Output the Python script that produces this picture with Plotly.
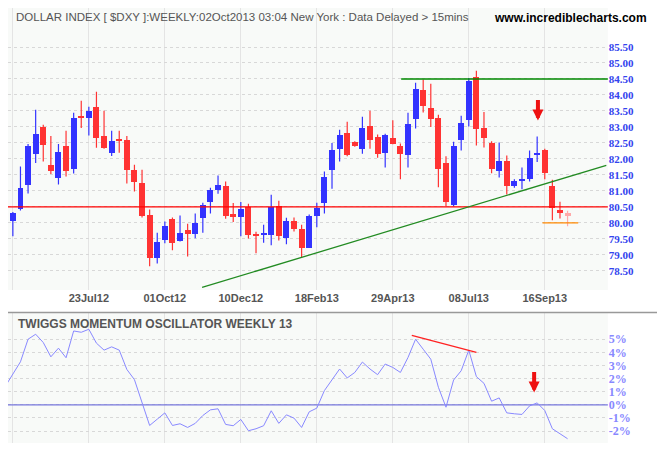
import pandas as pd
import plotly.graph_objects as go

# weekly candles, first week 07May12
dates = pd.date_range("2012-05-07", periods=75, freq="7D")

opens = [78.80, 80.05, 80.42, 81.17, 82.14, 83.01, 81.82, 81.39, 82.41, 81.67,
         83.34, 83.29, 83.63, 82.72, 82.17, 82.63, 82.60, 81.66, 81.26, 80.26,
         78.91, 79.45, 80.13, 79.42, 79.79, 79.64, 80.14, 80.64, 81.02, 81.16,
         80.29, 80.19, 80.50, 79.66, 79.65, 79.63, 80.54, 79.54, 80.07, 79.82,
         79.22, 80.23, 80.63, 81.64, 82.30, 82.82, 82.53, 82.30, 83.04, 82.69,
         82.19, 82.66, 82.40, 82.11, 83.26, 84.16, 83.60, 83.29, 81.88, 80.55,
         82.58, 83.22, 84.57, 82.97, 82.51, 81.61, 81.94, 81.14, 81.33, 81.37,
         82.14, 82.29, 81.16, 80.41, 80.32]
highs = [79.54, 80.34, 81.76, 82.47, 83.54, 83.07, 82.72, 82.47, 82.88, 83.44,
         83.82, 83.63, 84.10, 83.51, 82.88, 82.88, 82.72, 81.82, 81.66, 80.42,
         79.69, 80.04, 80.17, 80.23, 79.97, 80.29, 80.63, 81.10, 81.48, 81.29,
         80.62, 80.65, 80.60, 79.72, 79.94, 80.88, 80.69, 80.16, 80.17, 79.94,
         80.26, 80.63, 81.61, 82.50, 82.91, 83.16, 82.55, 83.32, 83.51, 82.76,
         82.79, 83.21, 82.48, 83.44, 84.38, 84.48, 84.35, 83.38, 82.08, 82.54,
         83.35, 84.53, 84.76, 83.47, 82.55, 82.51, 82.11, 81.36, 81.73, 82.26,
         82.70, 82.32, 81.35, 80.66, 80.38]
lows = [78.65, 79.58, 80.39, 80.92, 81.87, 81.92, 81.53, 81.20, 81.45, 81.54,
        82.97, 82.73, 82.35, 82.32, 82.09, 82.19, 81.23, 80.98, 80.17, 78.64,
        78.73, 79.36, 79.14, 79.42, 78.95, 79.52, 79.69, 80.29, 80.91, 80.13,
        80.03, 79.58, 79.51, 79.05, 79.38, 79.30, 79.45, 79.33, 79.73, 78.93,
        79.21, 79.86, 80.29, 81.07, 81.92, 82.08, 82.38, 82.16, 82.32, 82.04,
        81.73, 82.46, 81.36, 81.73, 82.95, 83.45, 83.00, 81.11, 80.52, 80.52,
        82.26, 83.01, 82.42, 82.36, 81.55, 81.42, 80.89, 81.10, 81.05, 81.29,
        81.90, 81.36, 80.08, 80.14, 79.89]
closes = [79.51, 80.32, 81.10, 82.40, 82.79, 82.45, 81.61, 82.22, 81.61, 83.29,
          83.29, 83.51, 82.64, 82.33, 82.57, 82.55, 81.64, 81.27, 80.20, 78.89,
          79.41, 79.91, 79.36, 79.69, 79.64, 80.00, 80.57, 81.04, 81.19, 80.23,
          80.17, 80.44, 79.61, 79.61, 79.69, 80.51, 79.58, 80.07, 79.80, 79.21,
          80.22, 80.48, 81.44, 82.29, 82.76, 82.13, 82.40, 82.96, 82.58, 82.14,
          82.76, 82.48, 82.14, 83.10, 84.19, 83.64, 83.26, 81.70, 80.64, 82.41,
          83.13, 84.45, 82.95, 82.64, 81.67, 81.94, 81.14, 81.32, 81.38, 82.04,
          82.16, 81.55, 80.45, 80.30, 80.21]

# Twiggs momentum oscillator, weekly 13 (percent)
momentum = [1.41, 2.35, 3.28, 5.00, 5.38, 4.75, 3.66, 4.32, 3.59, 5.63,
            5.53, 5.76, 4.70, 4.17, 4.42, 4.17, 2.70, 1.92, 0.20, -1.57,
            -1.09, -0.61, -1.57, -1.44, -1.72, -1.41, -0.81, -0.38, -0.30, -1.49,
            -1.59, -1.11, -1.97, -1.82, -1.59, -0.45, -1.41, -0.76, -1.01, -1.72,
            -0.53, -0.25, 1.09, 1.92, 2.73, 2.05, 2.47, 3.26, 2.73, 2.30,
            3.11, 2.85, 2.47, 3.61, 5.00, 4.24, 3.48, 1.34, -0.18, 1.89,
            2.60, 4.17, 2.15, 1.64, 0.28, 0.53, -0.61, -0.68, -0.73, -0.08,
            0.15, -0.43, -1.82, -2.20, -2.58]

tick_dates = ["2012-05-14", "2012-07-23", "2012-10-01", "2012-12-10",
              "2013-02-18", "2013-04-29", "2013-07-08", "2013-09-16"]
tick_text = ["14May12", "23Jul12", "01Oct12", "10Dec12",
             "18Feb13", "29Apr13", "08Jul13", "16Sep13"]

price_ticks = [78.5, 79.0, 79.5, 80.0, 80.5, 81.0, 81.5, 82.0, 82.5, 83.0,
               83.5, 84.0, 84.5, 85.0, 85.5]
osc_ticks = [-2, -1, 0, 1, 2, 3, 4, 5]

# drawn lines (week index from first candle, value)
resistance = ([53.1, 81.0], [84.5, 84.5])
support = ([0, 81.0], [80.5, 80.5])
trend = ([26.9, 80.1], [77.98, 81.80])
target = ([71.7, 76.4], [80.0, 80.0])
divergence = ([54.5, 63.0], [5.30, 3.99])


def wk(i):
    return dates[0] + pd.Timedelta(days=7 * (i - 1))


BLUE = "#3333ff"
RED = "#ff3333"
PINK = "#ffaaaa"
GRID = "#d8d8d8"

colors = [BLUE if c >= o else RED for o, c in zip(opens, closes)]
colors[-1] = PINK

fig = go.Figure()
# wicks
for col in set(colors):
    wx, wy = [], []
    for d, h, l, c in zip(dates, highs, lows, colors):
        if c == col:
            wx += [d, d, None]
            wy += [l, h, None]
    fig.add_trace(go.Scatter(x=wx, y=wy, mode="lines", line=dict(color=col, width=1.2),
                             showlegend=False, hoverinfo="skip", xaxis="x", yaxis="y"))
# bodies
fig.add_trace(go.Bar(
    x=dates, base=[min(o, c) for o, c in zip(opens, closes)],
    y=[max(abs(c - o), 0.03) for o, c in zip(opens, closes)],
    width=7 * 24 * 3600 * 1000 * 0.78, marker=dict(color=colors, line=dict(width=0)),
    showlegend=False, xaxis="x", yaxis="y"))

for (xs, ys), col in [(resistance, "#008800"), (support, "#ff0000"),
                      (trend, "#228B22"), (target, "#ff8800")]:
    fig.add_trace(go.Scatter(x=[wk(v) for v in xs], y=ys, mode="lines",
                             line=dict(color=col, width=1.3), showlegend=False,
                             hoverinfo="skip", xaxis="x", yaxis="y"))

fig.add_trace(go.Scatter(x=[wk(v) for v in [-5, 85]], y=[0, 0], mode="lines",
                         line=dict(color="#7777dd", width=1.3), showlegend=False,
                         xaxis="x2", yaxis="y2"))
fig.add_trace(go.Scatter(x=dates, y=momentum, mode="lines",
                         line=dict(color="#8888ff", width=1), showlegend=False,
                         xaxis="x2", yaxis="y2"))
fig.add_trace(go.Scatter(x=[wk(v) for v in divergence[0]], y=divergence[1],
                         mode="lines", line=dict(color="#ff2222", width=1.3),
                         showlegend=False, xaxis="x2", yaxis="y2"))

xrange = [wk(1.36), wk(80.3)]
axis_common = dict(type="date", range=xrange, tickvals=tick_dates,
                   showgrid=True, gridcolor="#e4e4e4", zeroline=False,
                   fixedrange=True)
fig.update_layout(
    width=657, height=442,
    margin=dict(l=0, r=0, t=0, b=0),
    paper_bgcolor="white", plot_bgcolor="#f8faf8",
    bargap=0,
    font=dict(family="Liberation Sans, Arial", size=11, color="#555555"),
    xaxis=dict(axis_common, domain=[0, 0.913], anchor="y",
               ticktext=tick_text, ticks="",
               tickfont=dict(size=11, color="#555555", weight="bold")),
    yaxis=dict(domain=[0.362, 1.0], range=[77.9, 86.72], side="right",
               tickvals=price_ticks, tickformat=".2f", gridcolor=GRID,
               griddash="dot", zeroline=False, ticks="",
               tickfont=dict(size=11, color="#3344ee", weight="bold",
                             family="Liberation Serif, Times New Roman")),
    xaxis2=dict(axis_common, domain=[0, 0.913], anchor="y2",
                showticklabels=False),
    yaxis2=dict(domain=[0.016, 0.310], range=[-2.9, 7.0], side="right",
                tickvals=osc_ticks, ticktext=[f"{v}%" for v in osc_ticks],
                gridcolor=GRID, griddash="dot", zeroline=False, ticks="",
                tickfont=dict(size=12, color="#8888ff", weight="bold",
                              family="Liberation Serif, Times New Roman")),
    shapes=[dict(type="line", xref="paper", yref="paper", x0=0, x1=1,
                 y0=0.311, y1=0.311, line=dict(color="#999999", width=1.5))],
    annotations=[
        dict(text="DOLLAR INDEX [ $DXY ]:WEEKLY:02Oct2013 03:04 New York : Data Delayed > 15mins",
             xref="paper", yref="paper", x=0.009, y=0.997, xanchor="left",
             yanchor="top", showarrow=False,
             font=dict(size=11.5, color="#555555", family="Liberation Sans Narrow, Arial Narrow, Liberation Sans")),
        dict(text="<b>www.incrediblecharts.com</b>", xref="paper", yref="paper",
             x=0.975, y=0.997, xanchor="right", yanchor="top", showarrow=False,
             font=dict(size=12, color="black", family="Liberation Sans Narrow, Liberation Sans")),
        dict(text="<b>TWIGGS MOMENTUM OSCILLATOR WEEKLY 13</b>", xref="paper",
             yref="paper", x=0.012, y=0.305, xanchor="left", yanchor="top",
             showarrow=False, font=dict(size=12, color="#555555")),
        dict(x=wk(71.1), y=83.2, xref="x", yref="y", ax=0, ay=-22,
             showarrow=True, arrowhead=2, arrowsize=0.55, arrowwidth=4,
             arrowcolor="#ee1111", text=""),
        dict(x=wk(70.6), y=0.95, xref="x2", yref="y2", ax=0, ay=-22,
             showarrow=True, arrowhead=2, arrowsize=0.55, arrowwidth=4,
             arrowcolor="#ee1111", text=""),
    ],
)

fig.write_html("out.html")
